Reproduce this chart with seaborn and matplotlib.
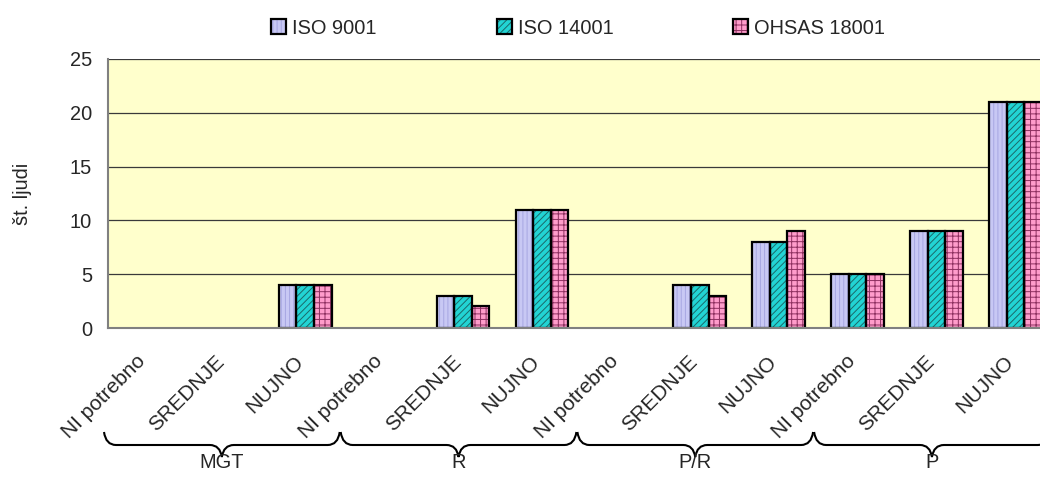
import numpy as np
import pandas as pd
import matplotlib
matplotlib.use("Agg")
import matplotlib.pyplot as plt
import matplotlib.transforms as mtransforms
from matplotlib.patches import Rectangle, PathPatch
from matplotlib.path import Path
from matplotlib.legend_handler import HandlerTuple
import seaborn as sns

# ---- data -------------------------------------------------------------
groups = ["MGT", "R", "P/R", "P"]
levels = ["NI potrebno", "SREDNJE", "NUJNO"]
standards = ["ISO 9001", "ISO 14001", "OHSAS 18001"]

iso9001 = [0, 0, 4, 0, 3, 11, 0, 4, 8, 5, 9, 21]
iso14001 = [0, 0, 4, 0, 3, 11, 0, 4, 8, 5, 9, 21]
ohsas18001 = [0, 0, 4, 0, 2, 11, 0, 3, 9, 5, 9, 21]

y_ticks = [0, 5, 10, 15, 20, 25]
y_label = "št. ljudi"

# ---- styling ----------------------------------------------------------
sns.set_style("white")
plt.rcParams["font.family"] = ["Liberation Sans", "DejaVu Sans"]
plt.rcParams["hatch.linewidth"] = 0.7
FS = 14.4

fills = {"ISO 9001": "#C8C8F4", "ISO 14001": "#22D4D4", "OHSAS 18001": "#FF9CCB"}
hatch_col = {"ISO 9001": "#A6A6E2", "ISO 14001": "#1A6A6A", "OHSAS 18001": "#8E3060"}
hatches = {"ISO 9001": "||||", "ISO 14001": "/////", "OHSAS 18001": "+++"}

categories = [f"{g}|{l}" for g in groups for l in levels]
series = {"ISO 9001": iso9001, "ISO 14001": iso14001, "OHSAS 18001": ohsas18001}
df = pd.DataFrame(
    [(c, s, v) for s, vals in series.items() for c, v in zip(categories, vals)],
    columns=["category", "standard", "value"],
)

W, H = 1040, 479
fig = plt.figure(figsize=(W / 100, H / 100), dpi=100)
n = len(categories)
cat_px = 78.9
ax = fig.add_axes([108 / W, 1 - 328 / H, n * cat_px / W, 269 / H])
ax.set_facecolor("#FFFFCC")

sns.barplot(
    data=df, x="category", y="value", hue="standard",
    order=categories, hue_order=standards, palette=fills,
    width=0.67, saturation=1, linewidth=0, legend=False, ax=ax,
)

# hatched fill plus a black outline on each bar
for std, cont in zip(standards, ax.containers):
    for bar in cont:
        if bar.get_height() <= 0:
            bar.set_visible(False)
            continue
        bar.set_hatch(hatches[std])
        bar.set_edgecolor(hatch_col[std])
        bar.set_linewidth(0)
        ax.add_patch(Rectangle(bar.get_xy(), bar.get_width(), bar.get_height(),
                               fill=False, edgecolor="black", linewidth=1.6,
                               zorder=bar.get_zorder() + 0.1))

# axes
ax.set_xlim(-0.5, n - 0.5)
ax.set_ylim(y_ticks[0], y_ticks[-1])
ax.set_yticks(y_ticks)
ax.set_yticklabels([str(t) for t in y_ticks], fontsize=FS)
ax.yaxis.grid(True, color="#3a3a3a", linewidth=0.9)
ax.set_axisbelow(True)
for side in ("top", "right"):
    ax.spines[side].set_visible(False)
for side in ("left", "bottom"):
    ax.spines[side].set_color("#808080")
    ax.spines[side].set_linewidth(1.5)
ax.tick_params(axis="y", direction="out", length=3.6, width=1, color="#808080", pad=8)

ax.set_xticks(np.arange(n))
ax.set_xticklabels([c.split("|")[1] for c in categories], fontsize=15,
                   rotation=45, ha="right", va="center", rotation_mode="anchor")
ax.tick_params(axis="x", which="major", length=0, pad=22)
shift = mtransforms.ScaledTranslation(-5 / 100, 0, fig.dpi_scale_trans)
for lbl in ax.get_xticklabels():
    lbl.set_transform(lbl.get_transform() + shift)
ax.set_xticks(np.arange(n + 1) - 0.5, minor=True)
ax.tick_params(axis="x", which="minor", direction="out", length=3.6, width=1, color="#808080")
ax.set_xlabel("")

ax.set_ylabel(y_label, fontsize=FS)
ax.yaxis.set_label_coords((32 - 108) / (n * cat_px), 0.5)

# curly braces grouping the levels under each category group
ypix = mtransforms.Affine2D().scale(1, -1).translate(0, H)
btr = mtransforms.blended_transform_factory(ax.transData, ypix)
u = 1 / cat_px  # one pixel in category units
y_top, y_mid, y_tip = 432, 445, 457
c = 12 * u
for gi, g in enumerate(groups):
    x0 = gi * 3 - 0.5 - 4 * u
    x1 = gi * 3 + 2.5 - 5 * u
    xm = (x0 + x1) / 2
    verts = [
        (x0, y_top), (x0 + 0.15 * c, y_mid), (x0 + c, y_mid),
        (xm - c, y_mid),
        (xm - 0.15 * c, y_mid), (xm, y_tip),
        (xm + 0.15 * c, y_mid), (xm + c, y_mid),
        (x1 - c, y_mid),
        (x1 - 0.15 * c, y_mid), (x1, y_top),
    ]
    codes = [Path.MOVETO, Path.CURVE3, Path.CURVE3, Path.LINETO,
             Path.CURVE3, Path.CURVE3, Path.CURVE3, Path.CURVE3,
             Path.LINETO, Path.CURVE3, Path.CURVE3]
    ax.add_patch(PathPatch(Path(verts, codes), transform=btr, fill=False,
                           edgecolor="black", linewidth=1.5, clip_on=False))
    ax.text(xm, 468, g, transform=btr, ha="center", va="baseline",
            fontsize=FS, clip_on=False)

# legend
handles = []
for std in standards:
    fillp = Rectangle((0, 0), 1, 1, facecolor=fills[std], hatch=hatches[std],
                      edgecolor=hatch_col[std], linewidth=0)
    edge = Rectangle((0, 0), 1, 1, fill=False, edgecolor="black", linewidth=1.6)
    handles.append((fillp, edge))
fig.legend(handles, standards, handler_map={tuple: HandlerTuple(ndivide=1)},
           loc="center left", bbox_to_anchor=(271 / W, 1 - 28 / H), ncol=3,
           frameon=False, handlelength=0.75, handleheight=0.75,
           handletextpad=0.3, columnspacing=6.0, borderpad=0, borderaxespad=0,
           fontsize=FS)

fig.savefig("out.png", dpi=100)
